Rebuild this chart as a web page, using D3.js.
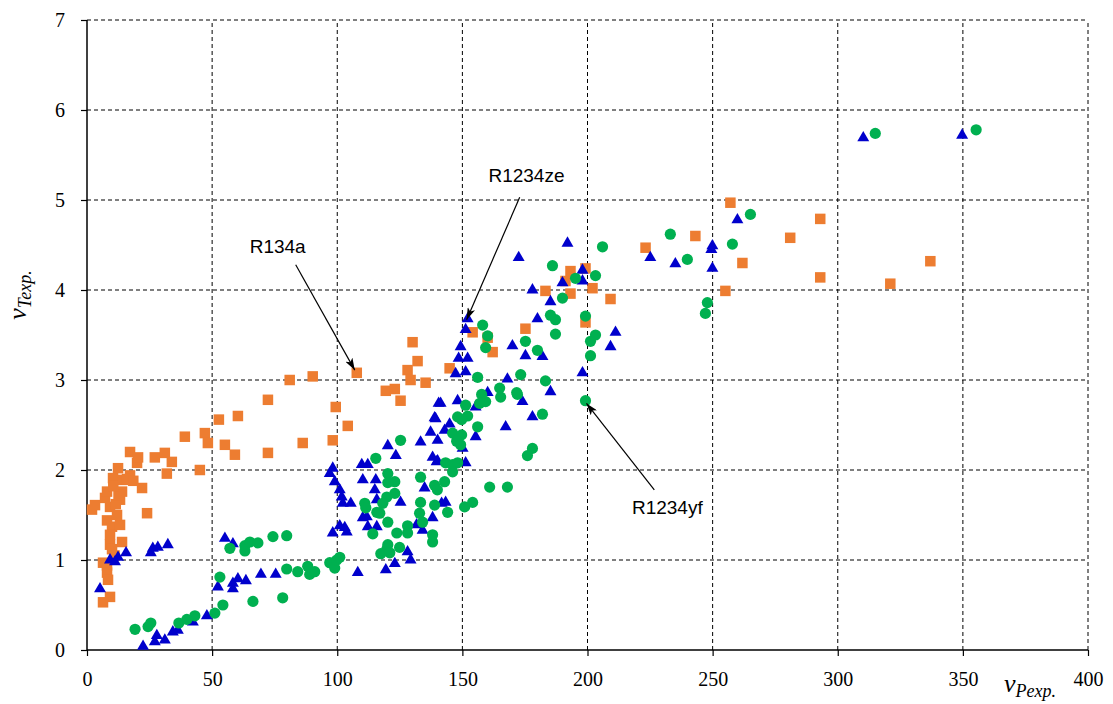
<!DOCTYPE html>
<html><head><meta charset="utf-8">
<script src="https://cdn.jsdelivr.net/npm/d3@7"></script>
<style>body{margin:0;background:#fff}svg{display:block}</style>
</head><body>
<svg id="c" width="1113" height="704"></svg>
<script>
// R134a (orange squares)
const r134aX = [2,3.2,7.2,8,9.2,8,10,9.2,9.2,6.4,8,8,8.4,9.2,6.4,10.4,12.4,13.2,14,14.4,13.2,14,17.2,17.2,20,20.4,22,24,27.1,31.1,31.9,33.9,39.1,45.1,47.1,48.3,52.7,55.1,59.1,60.3,72.3,72.3,81,86.2,90.2,98.2,99.4,104.2,107.8,119.4,123,125.3,128.1,129.3,130.1,132.1,135.3,144.9,154.1,160.1,162.1,175.2,183.2,191.2,193.2,193.2,199.2,199.2,202,209.2,223.2,243.1,255.1,257.1,261.9,281,293,293,321,337,11,10,12,11.5,12.6,10.5,16,18.5];
const r134aY = [1.56,1.61,1.69,1.76,1.59,1.44,1.37,1.28,1.17,0.97,0.94,0.86,0.78,0.59,0.53,1.91,2.02,1.67,1.76,1.89,1.39,1.2,1.94,2.2,2.08,2.14,1.8,1.52,2.14,2.19,1.96,2.09,2.37,2.0,2.41,2.3,2.56,2.28,2.17,2.6,2.19,2.78,3.0,2.3,3.04,2.33,2.7,2.49,3.08,2.88,2.9,2.77,3.11,3.0,3.42,3.21,2.97,3.13,3.53,3.47,3.31,3.57,3.99,4.1,4.21,3.96,4.24,3.64,4.02,3.9,4.47,4.6,3.99,4.97,4.3,4.58,4.79,4.14,4.07,4.32,1.05,1.12,1.5,1.62,1.72,1.82,1.9,1.88];

// R1234ze (blue triangles)
const r1234zeX = [5.2,9.2,11.2,12.4,15.6,25.5,26.3,28.3,32.3,22.4,27.1,27.9,31.1,34.3,36.3,42.3,47.9,52.3,55.1,58.3,58.3,58.3,60.3,63.5,69.5,75.4,97,98.2,99,101,101.8,102.2,105.4,98.2,101,103,103.8,108.2,110.2,109.8,112.2,115.4,115,115.8,110.2,111.8,112.2,115.8,119.4,123,128.1,129.3,120.2,123.4,125.3,131.7,134.1,138.1,134.9,138.1,139.7,133.3,137.3,138.9,140.5,139.3,142.9,140.1,144.9,141.3,141.7,143.3,140.1,148.1,147.3,148.5,149.3,151.3,152.1,151.3,152.1,150.1,151.3,155.3,155.3,160.1,167.3,168,170,172.5,174,175.2,178,178,180,182,185.2,185.2,190,192,198,198,198,209.2,211.2,225.1,235.1,249.5,249.9,249.9,259.9,310.2,349.7];
const r1234zeY = [0.68,1.0,0.98,1.03,1.08,1.08,1.13,1.14,1.17,0.04,0.09,0.16,0.11,0.2,0.22,0.31,0.38,0.7,1.24,1.18,0.74,0.68,0.79,0.77,0.84,0.84,1.96,2.02,1.87,1.78,1.7,1.63,1.63,1.3,1.38,1.36,1.31,0.86,1.89,2.06,2.06,1.89,1.78,1.67,1.47,1.48,1.37,1.37,0.89,0.96,1.09,1.0,2.27,2.16,1.64,1.39,1.33,1.47,1.8,2.14,2.09,2.31,2.42,2.58,2.74,2.57,2.44,2.33,2.51,2.74,1.63,1.64,2.1,2.77,3.07,3.24,3.37,3.09,3.24,3.56,3.68,2.24,2.08,2.7,2.37,2.86,2.48,3.01,3.38,4.36,2.76,3.27,2.59,4.0,3.68,3.26,3.87,2.87,4.08,4.52,4.22,4.1,3.08,3.37,3.53,4.36,4.29,4.45,4.49,4.24,4.78,5.69,5.72];

// R1234yf (green circles)
const r1234yfX = [19.2,24.4,25.5,36.7,39.9,43.1,51.1,54.3,53.1,57.1,63.1,63.1,65.1,68.3,74.3,79.8,66.3,78.2,79.8,84.2,88.2,89,91,97,99,99.8,101,115.4,120.2,123,120.2,123,119.8,118.2,111,111.4,115.8,117,120.2,114.2,123.8,128.1,128.1,124.9,120.2,119.8,117.4,121,133.3,133.3,132.9,134.1,138.9,138.9,138.1,138.1,125.3,140,158.1,160.1,159.3,156.1,164.9,165.3,171.7,157.7,159.3,156.9,151.3,148.1,152.1,149.7,156.1,146.1,149.7,147.7,149.3,143.3,146.1,148.1,146.1,142.9,144.1,150.9,154.1,160.9,168,206,186,195.2,203.2,190,185.2,187.2,199.2,187.2,203.2,201.2,175.2,180,201.2,173.3,183.2,172,182,199.2,178,176,265.1,233.1,239.9,257.9,247.9,247.1,315,355.3];
const r1234yfY = [0.23,0.26,0.3,0.3,0.34,0.38,0.41,0.5,0.81,1.13,1.1,1.16,1.2,1.19,1.26,1.27,0.54,0.58,0.9,0.87,0.93,0.84,0.87,0.97,0.91,1.0,1.03,2.13,1.96,1.87,1.86,1.74,1.7,1.63,1.63,1.58,1.53,1.52,1.42,1.29,1.3,1.38,1.3,1.14,1.17,1.12,1.07,1.08,1.92,1.64,1.52,1.42,1.83,1.61,1.28,1.2,2.33,1.78,3.61,3.49,3.36,3.03,2.91,2.81,2.86,2.84,2.76,2.74,2.72,2.59,2.6,2.56,2.48,2.41,2.39,2.32,2.28,2.08,2.06,2.08,1.98,1.87,1.53,1.59,1.64,1.81,1.81,4.48,4.27,4.13,4.16,3.91,3.72,3.67,3.71,3.51,3.5,3.43,3.43,3.33,3.27,3.06,2.99,2.84,2.62,2.77,2.24,2.16,4.84,4.62,4.34,4.51,3.86,3.74,5.74,5.78];

const xTicks = [0,50,100,150,200,250,300,350,400];
const yTicks = [0,1,2,3,4,5,6,7];

// annotations: label position and arrow (from -> to) in data units
const annNames = ["R134a","R1234ze","R1234yf"];
const annLabel = [[76.2,4.48],[175.6,5.27],[231.9,1.58]];
const annFrom = [[83.4,4.28],[172.9,5.03],[226.7,1.78]];
const annTo = [[107,3.11],[151.7,3.67],[199.6,2.74]];

const svg = d3.select("#c");
const L = 87, R = 1088, T = 20, B = 650;
const x = d3.scaleLinear().domain([0,400]).range([L,R]);
const y = d3.scaleLinear().domain([0,7]).range([B,T]);

// gridlines
const g = svg.append("g");
g.selectAll("line.vg").data(xTicks.filter(d=>d>0)).join("line")
  .attr("x1",d=>x(d)).attr("x2",d=>x(d)).attr("y1",B).attr("y2",T)
  .attr("stroke","#000").attr("stroke-width",1).attr("stroke-dasharray","4,3");
g.selectAll("line.hg").data(yTicks.filter(d=>d>0)).join("line")
  .attr("x1",L).attr("x2",R).attr("y1",d=>y(d)).attr("y2",d=>y(d))
  .attr("stroke","#000").attr("stroke-width",1).attr("stroke-dasharray","4,3");

// axes
const xAxis = svg.append("g").attr("transform",`translate(0,${B})`)
  .call(d3.axisBottom(x).tickValues(xTicks).tickSize(6).tickPadding(16).tickFormat(d3.format("d")));
const yAxis = svg.append("g").attr("transform",`translate(${L},0)`)
  .call(d3.axisLeft(y).tickValues(yTicks).tickSize(6).tickPadding(16).tickFormat(d3.format("d")));
[xAxis,yAxis].forEach(a=>{
  a.select(".domain").attr("stroke","#000").attr("stroke-width",1.5);
  a.selectAll(".tick line").attr("stroke","#000").attr("stroke-width",1.2);
  a.selectAll("text").attr("font-family","'Liberation Serif','Times New Roman',serif").attr("font-size",20).attr("fill","#000");
});
xAxis.select(".domain").attr("d",`M${L},0H${R}`);
yAxis.select(".domain").attr("d",`M0,${B}V${T}`);

// markers
const sq = 10.5;
svg.append("g").selectAll("rect").data(r134aX.map((v,i)=>[v,r134aY[i]])).join("rect")
  .attr("x",d=>x(d[0])-sq/2).attr("y",d=>y(d[1])-sq/2).attr("width",sq).attr("height",sq)
  .attr("fill","#ED7D31");
const tri = d3.symbol().type(d3.symbolTriangle).size(62);
svg.append("g").selectAll("path").data(r1234zeX.map((v,i)=>[v,r1234zeY[i]])).join("path")
  .attr("d",tri).attr("transform",d=>`translate(${x(d[0])},${y(d[1])})`)
  .attr("fill","#0000CC");
svg.append("g").selectAll("circle").data(r1234yfX.map((v,i)=>[v,r1234yfY[i]])).join("circle")
  .attr("cx",d=>x(d[0])).attr("cy",d=>y(d[1])).attr("r",5.6)
  .attr("fill","#00B050");

// arrows
const defs = svg.append("defs");
defs.append("marker").attr("id","ah").attr("viewBox","0 0 12 8").attr("refX",12).attr("refY",4)
  .attr("markerWidth",12).attr("markerHeight",8).attr("markerUnits","userSpaceOnUse").attr("orient","auto")
  .append("path").attr("d","M0,0L12,4L0,8L3,4Z").attr("fill","#000");
const ann = svg.append("g");
annNames.forEach((n,i)=>{
  ann.append("line").attr("x1",x(annFrom[i][0])).attr("y1",y(annFrom[i][1]))
    .attr("x2",x(annTo[i][0])).attr("y2",y(annTo[i][1]))
    .attr("stroke","#000").attr("stroke-width",1.2).attr("marker-end","url(#ah)");
  ann.append("text").attr("x",x(annLabel[i][0])).attr("y",y(annLabel[i][1])).attr("dy","0.35em")
    .attr("text-anchor","middle").attr("font-family","'Liberation Sans',Arial,sans-serif")
    .attr("font-size",19).attr("fill","#000").text(n);
});

// axis labels
const serif = "'Liberation Serif','Times New Roman',serif";
const yl = svg.append("text").attr("transform","translate(26,295) rotate(-90)")
  .attr("text-anchor","middle").attr("font-family",serif).attr("font-style","italic").attr("fill","#000");
yl.append("tspan").attr("font-size",26).text("v");
yl.append("tspan").attr("font-size",18).attr("dy",5).text("Texp.");
const xl = svg.append("text").attr("x",1004).attr("y",692)
  .attr("font-family",serif).attr("font-style","italic").attr("fill","#000");
xl.append("tspan").attr("font-size",26).text("v");
xl.append("tspan").attr("font-size",18).attr("dy",5).text("Pexp.");
</script>
</body></html>
